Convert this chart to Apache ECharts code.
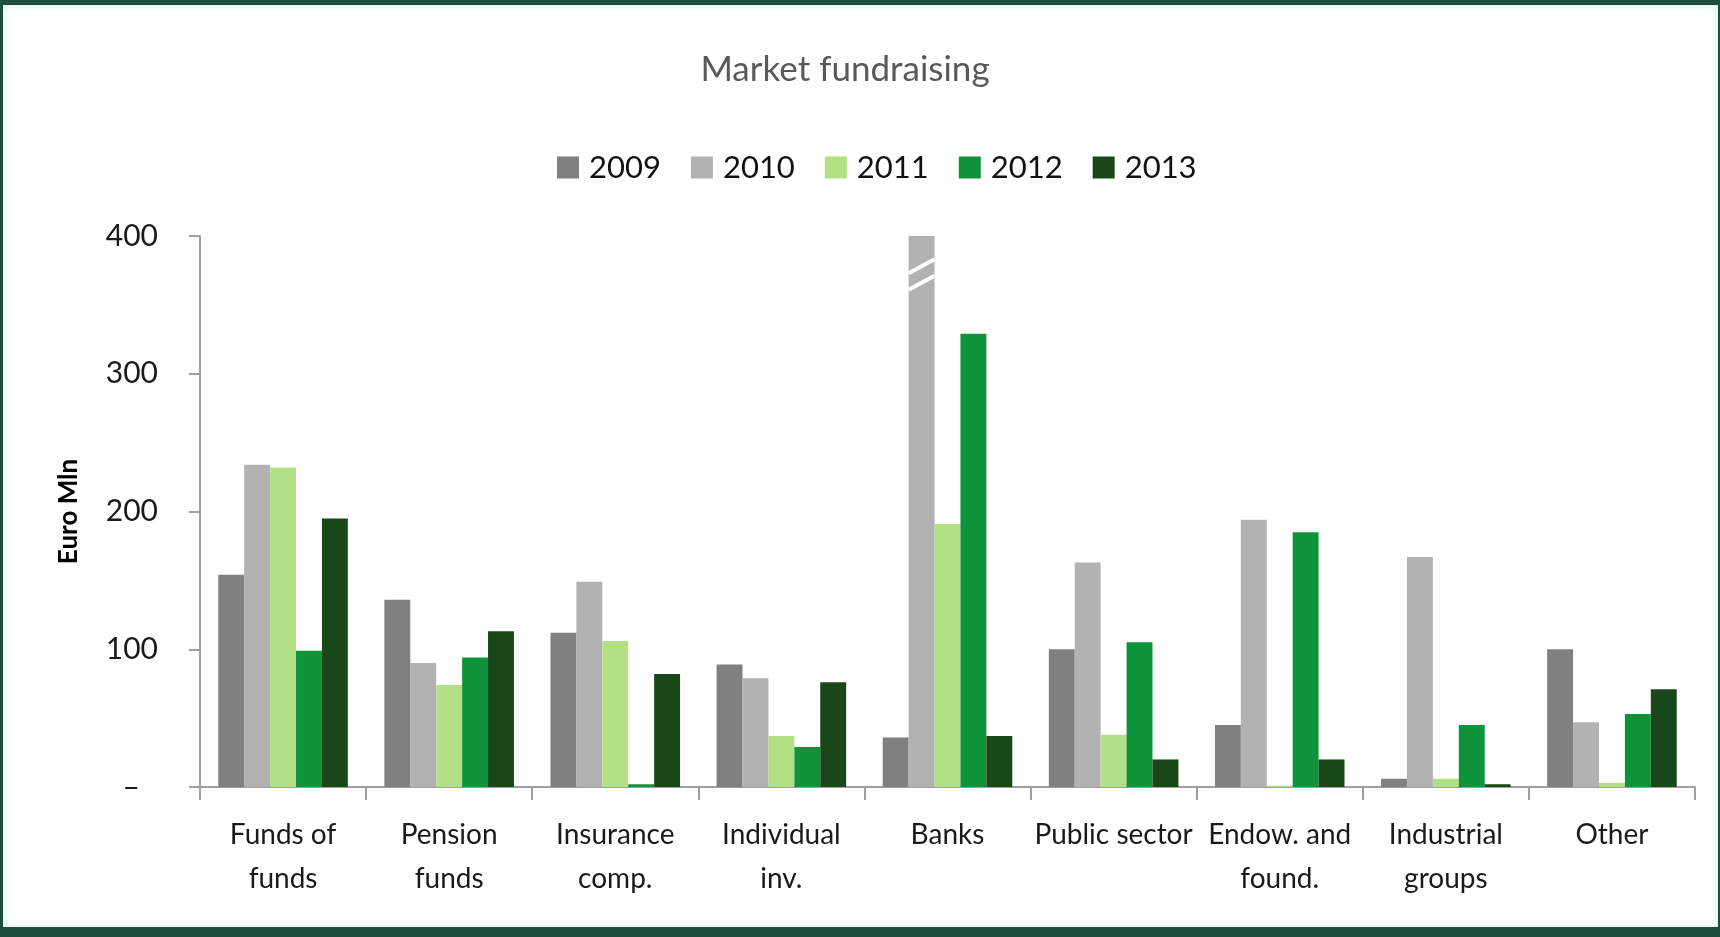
<!DOCTYPE html>
<html>
<head>
<meta charset="utf-8">
<script src="https://cdn.jsdelivr.net/npm/echarts@6/dist/echarts.min.js"></script>
<style>
  html, body { margin: 0; padding: 0; }
  #frame { position: absolute; left: 0; top: 0; width: 1720px; height: 937px; background: #1e4e3c; }
  #paper { position: absolute; left: 3px; top: 5px; width: 1715px; height: 922px; background: #fff;
           box-shadow: inset 0 0 8px rgba(190, 235, 225, 0.7); }
  #chart { position: absolute; left: 0; top: 0; width: 1720px; height: 937px; }
</style>
</head>
<body>
<div id="frame"></div>
<div id="paper"></div>
<div id="chart"></div>
<script>
// categories / series (Euro Mln)
var categories = ['Funds of\nfunds', 'Pension\nfunds', 'Insurance\ncomp.', 'Individual\ninv.', 'Banks',
  'Public sector', 'Endow. and\nfound.', 'Industrial\ngroups', 'Other']
var years = ['2009', '2010', '2011', '2012', '2013']
var colors = ['#808080', '#b2b2b2', '#b3df85', '#0f933a', '#1a4719']

var v2009 = [154, 136, 112, 89, 36, 100, 45, 6, 100]
var v2010 = [234, 90, 149, 79, 400, 163, 194, 167, 47] // Banks is off the scale (broken bar)
var v2011 = [232, 74, 106, 37, 191, 38, 1, 6, 3]
var v2012 = [99, 94, 2, 29, 329, 105, 185, 45, 53]
var v2013 = [195, 113, 82, 76, 37, 20, 20, 2, 71]
var yTicks = [0, 100, 200, 300, 400]

var values = [v2009, v2010, v2011, v2012, v2013]
var font = 'Lato'

var chart = echarts.init(document.getElementById('chart'))

var series = years.map(function(y, i) {
  return {
    name: y,
    type: 'bar',
    data: values[i],
    barGap: 0,
    barCategoryGap: '22%',
    itemStyle: { color: colors[i] }
  }
})

chart.setOption({
  animation: false,
  backgroundColor: 'transparent',
  title: {
    text: 'Market fundraising',
    left: 840,
    top: 47,
    textAlign: 'center',
    textStyle: { fontFamily: font, fontSize: 35, fontWeight: 'normal', color: '#595959' }
  },
  legend: {
    data: years,
    left: 552,
    top: 147,
    icon: 'rect',
    itemWidth: 22,
    itemHeight: 22,
    itemGap: 30,
    textStyle: { fontFamily: font, fontSize: 31, color: '#111', padding: [0, 0, 0, 5] }
  },
  grid: { left: 200, right: 25, top: 236, bottom: 150 },
  xAxis: {
    type: 'category',
    data: categories,
    axisLine: { lineStyle: { color: '#a0a0a0', width: 2 } },
    axisTick: { show: true, length: 13, lineStyle: { color: '#a0a0a0', width: 2 } },
    axisLabel: {
      interval: 0,
      margin: 26,
      lineHeight: 44,
      fontFamily: font,
      fontSize: 28,
      color: '#1a1a1a'
    }
  },
  yAxis: {
    type: 'value',
    min: yTicks[0],
    max: yTicks[yTicks.length - 1],
    interval: 100,
    name: 'Euro Mln',
    nameLocation: 'middle',
    nameGap: 118,
    nameTextStyle: { fontFamily: font, fontSize: 26, fontWeight: 'bold', color: '#000' },
    axisLine: { show: true, lineStyle: { color: '#a0a0a0', width: 2 } },
    axisTick: { show: true, length: 11, lineStyle: { color: '#a0a0a0', width: 2 } },
    splitLine: { show: false },
    axisLabel: {
      margin: 42,
      fontFamily: font,
      fontSize: 30,
      color: '#1a1a1a',
      formatter: function(v) {
        return v === 0 ? '{d|–}' : String(v)
      },
      rich: { d: { fontFamily: font, fontSize: 30, color: '#1a1a1a', padding: [0, 18, 0, 0] } }
    }
  },
  series: series
})

// break marks on the off-scale Banks 2010 bar
var c0 = chart.convertToPixel({ xAxisIndex: 0 }, categories[0])
var c1 = chart.convertToPixel({ xAxisIndex: 0 }, categories[1])
var barW = (c1 - c0) * 0.78 / 5
var bx = chart.convertToPixel({ xAxisIndex: 0 }, categories[4]) - barW * 1.5
var breaks = [378, 366].map(function(v) {
  var y = chart.convertToPixel({ yAxisIndex: 0 }, v)
  return {
    type: 'line',
    shape: { x1: bx, y1: y + 7, x2: bx + barW, y2: y - 7 },
    style: { stroke: '#fff', lineWidth: 4 },
    z: 100
  }
})
chart.setOption({ graphic: breaks })
</script>
</body>
</html>
